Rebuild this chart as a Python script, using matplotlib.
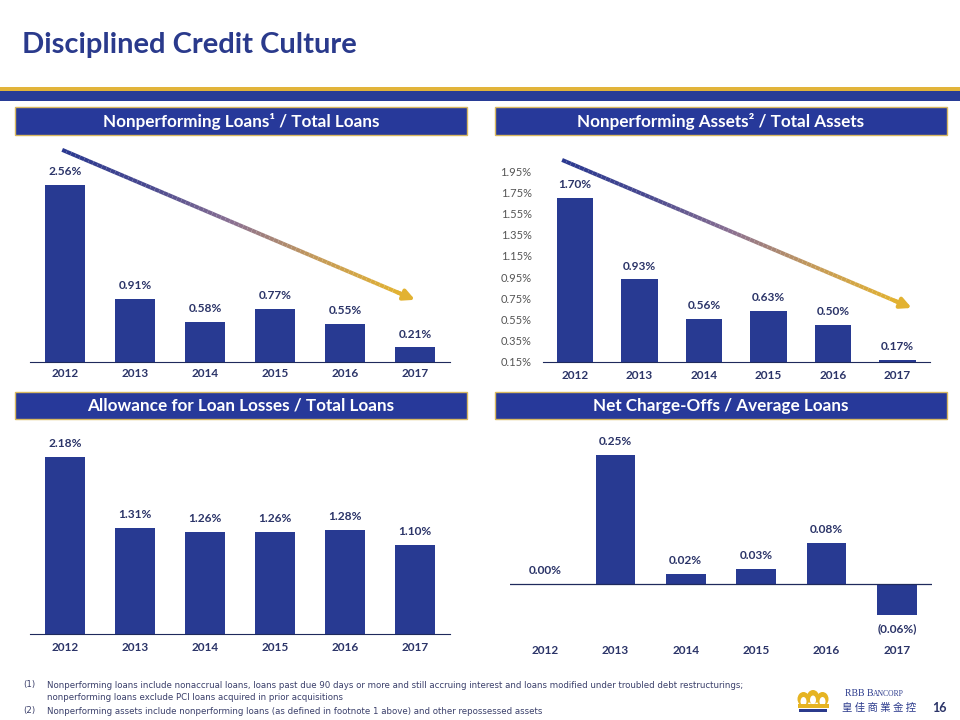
import matplotlib
matplotlib.use('Agg')
import matplotlib.pyplot as plt
import matplotlib.patches as patches
from matplotlib.collections import LineCollection
from matplotlib.transforms import Affine2D
import matplotlib.colors as mcolors
import numpy as np

# data
years = ['2012', '2013', '2014', '2015', '2016', '2017']
npl_ratio = [2.56, 0.91, 0.58, 0.77, 0.55, 0.21]
npa_ratio = [1.70, 0.93, 0.56, 0.63, 0.50, 0.17]
allowance_ratio = [2.18, 1.31, 1.26, 1.26, 1.28, 1.10]
nco_ratio = [0.00, 0.25, 0.02, 0.03, 0.08, -0.06]
npa_ticks = [0.15, 0.35, 0.55, 0.75, 0.95, 1.15, 1.35, 1.55, 1.75, 1.95]

BAR = '#283a92'
NAVY = '#2b3468'
HEAD = '#27399a'
GOLD = '#e2b43a'
LABEL_FONT = ['Lato', 'DejaVu Sans']

fig = plt.figure(figsize=(9.6, 7.2), dpi=100)
W, H = 960, 720
pix = Affine2D().scale(1 / W, -1 / H).translate(0, 1) + fig.transFigure

arrow_cmap = mcolors.LinearSegmentedColormap.from_list(
    'trend', ['#2b3990', '#4a4a90', '#8a7092', '#c49a5a', '#e2b232'])


def px_axes(l, t, r, b):
    return fig.add_axes([l / W, 1 - b / H, (r - l) / W, (b - t) / H])


def header(l, t, r, b, text):
    fig.patches.append(patches.Rectangle((l, t), r - l, b - t, transform=pix,
                                         facecolor=HEAD, edgecolor='#d8b860', lw=1))
    fig.text((l + r) / 2 / W, 1 - (t + b) / 2 / H, text, color='white', fontsize=12.3,
             fontweight='bold', ha='center', va='center', family=LABEL_FONT)


def fmt(v):
    return '(%.2f%%)' % abs(v) if v < 0 else '%.2f%%' % v


def style_bars(ax, pad):
    ax.set_xticks(range(len(years)))
    ax.set_xticklabels(years, fontsize=8.5, fontweight='bold', color=NAVY, family=LABEL_FONT)
    ax.tick_params(axis='x', length=0, pad=pad)
    ax.set_xlim(-0.5, 5.5)
    for s in ['top', 'right', 'left']:
        ax.spines[s].set_visible(False)
    ax.spines['bottom'].set_color('#1f2a5c')
    ax.set_yticks([])
    ax.patch.set_alpha(0)


def labels(ax, vals):
    for i, v in enumerate(vals):
        off = 9.5 if v >= 0 else -10
        ax.annotate(fmt(v), (i, v), xytext=(0, off), textcoords='offset points',
                    ha='center', va='center', fontsize=8.6, fontweight='bold',
                    color=NAVY, family=LABEL_FONT, annotation_clip=False)


def trend_arrow(ax, p0, p1, n=80):
    xs = np.linspace(p0[0], p1[0], n + 1)
    ys = np.linspace(p0[1], p1[1], n + 1)
    segs = [[(xs[k], ys[k]), (xs[k + 1], ys[k + 1])] for k in range(n - 3)]
    cols = [arrow_cmap(k / (n - 4)) for k in range(n - 3)]
    lc = LineCollection(segs, colors=cols, linewidths=2.9, clip_on=False, capstyle='butt')
    ax.add_collection(lc)
    ax.annotate('', xy=p1, xytext=(xs[n - 4], ys[n - 4]),
                arrowprops=dict(arrowstyle='-|>', color='#e2b232', lw=2.9,
                                mutation_scale=16, shrinkA=0, shrinkB=0),
                annotation_clip=False)


# title and top bands
fig.text(22 / W, 1 - 45 / H, 'Disciplined Credit Culture', fontsize=21, fontweight='bold',
         color='#2a3a8c', va='center', ha='left', family=LABEL_FONT)
fig.patches.append(patches.Rectangle((0, 86.5), W, 4, transform=pix, facecolor=GOLD, lw=0))
fig.patches.append(patches.Rectangle((0, 90.5), W, 10, transform=pix, facecolor='#283c96', lw=0))

header(15, 107, 467, 135, 'Nonperforming Loans\u00b9 / Total Loans')
header(495, 107, 947, 135, 'Nonperforming Assets\u00b2 / Total Assets')
header(15, 392, 467, 419, 'Allowance for Loan Losses / Total Loans')
header(495, 392, 947, 419, 'Net Charge-Offs / Average Loans')

x = np.arange(len(years))

# panel 1: NPL / total loans
ax1 = px_axes(30, 140, 450, 362)
ax1.bar(x, npl_ratio, width=0.57, color=BAR)
ax1.set_ylim(0, 222 / 69.1)
style_bars(ax1, 4)
labels(ax1, npl_ratio)
trend_arrow(ax1, (-0.04, 3.07), (5.0, 0.90))

# panel 2: NPA / total assets
ax2 = px_axes(542.75, 160, 929.75, 362)
ax2.bar(x, np.array(npa_ratio) - 0.15, bottom=0.15, width=0.57, color=BAR)
ax2.set_ylim(0.15, 0.15 + 202 / 106)
style_bars(ax2, 6)
ax2.set_yticks(npa_ticks)
ax2.set_yticklabels(['%.2f%%' % t for t in npa_ticks], fontsize=8, color='#555555',
                    family=LABEL_FONT)
ax2.tick_params(axis='y', length=0, pad=8)
labels(ax2, npa_ratio)
trend_arrow(ax2, (-0.2, 2.056), (5.22, 0.66))

# panel 3: allowance / total loans
ax3 = px_axes(30, 430, 450, 634)
ax3.bar(x, allowance_ratio, width=0.57, color=BAR)
ax3.set_ylim(0, 204 / 81.2)
style_bars(ax3, 6)
labels(ax3, allowance_ratio)

# panel 4: net charge-offs / average loans
ax4 = px_axes(509.8, 430, 932.2, 639)
ax4.bar(x, nco_ratio, width=0.56, color=BAR)
ax4.set_ylim(-55 / 516, 154 / 516)
style_bars(ax4, 4)
ax4.spines['bottom'].set_visible(False)
ax4.axhline(0, color='#1f2a5c', lw=0.9)
labels(ax4, nco_ratio)

# footnotes
foot = dict(fontsize=6.2, color='#3a3f6a', va='center', ha='left',
            family=['Liberation Sans Narrow', 'DejaVu Sans'])
fig.text(23 / W, 1 - 685 / H, '(1)', **foot)
fig.text(47 / W, 1 - 685 / H, 'Nonperforming loans include nonaccrual loans, loans past due 90 days or more '
         'and still accruing interest and loans modified under troubled debt restructurings;', **foot)
fig.text(47 / W, 1 - 698 / H, 'nonperforming loans exclude PCI loans acquired in prior acquisitions', **foot)
fig.text(23 / W, 1 - 711 / H, '(2)', **foot)
fig.text(47 / W, 1 - 711 / H, 'Nonperforming assets include nonperforming loans (as defined in footnote 1 above) '
         'and other repossessed assets', **foot)

# logo: crown
CROWN = '#e6b422'
for cx, cy in [(803.5, 699), (813, 697), (822.5, 699)]:
    fig.patches.append(patches.Ellipse((cx, cy), 12, 14, transform=pix, facecolor=CROWN, lw=0))
for cx, cy in [(803.5, 701.5), (813, 700), (822.5, 701.5)]:
    fig.patches.append(patches.Ellipse((cx, cy), 6, 9, transform=pix, facecolor='white', lw=0))
fig.patches.append(patches.Rectangle((797.5, 703.5), 31, 4, transform=pix, facecolor=CROWN, lw=0))
fig.patches.append(patches.Rectangle((799, 709), 28, 2.5, transform=pix, facecolor='#2b3a8c', lw=0))
fig.text(845 / W, 1 - 694 / H, 'RBB B', fontsize=7, color='#2b3a8c', va='center', ha='left',
         family='Liberation Serif')
fig.text(873 / W, 1 - 694.5 / H, 'ANCORP', fontsize=5.5, color='#2b3a8c', va='center', ha='left',
         family='Liberation Serif')
fig.text(842 / W, 1 - 708 / H, '皇 佳 商 業 金 控', fontsize=7.5, color='#2b3a8c', va='center',
         ha='left', family=['Noto Sans CJK TC', 'DejaVu Sans'])
fig.text(939 / W, 1 - 708 / H, '16', fontsize=9, fontweight='bold', color='#2b3468',
         va='center', ha='center', family=LABEL_FONT)

fig.savefig('out.png', dpi=100)
